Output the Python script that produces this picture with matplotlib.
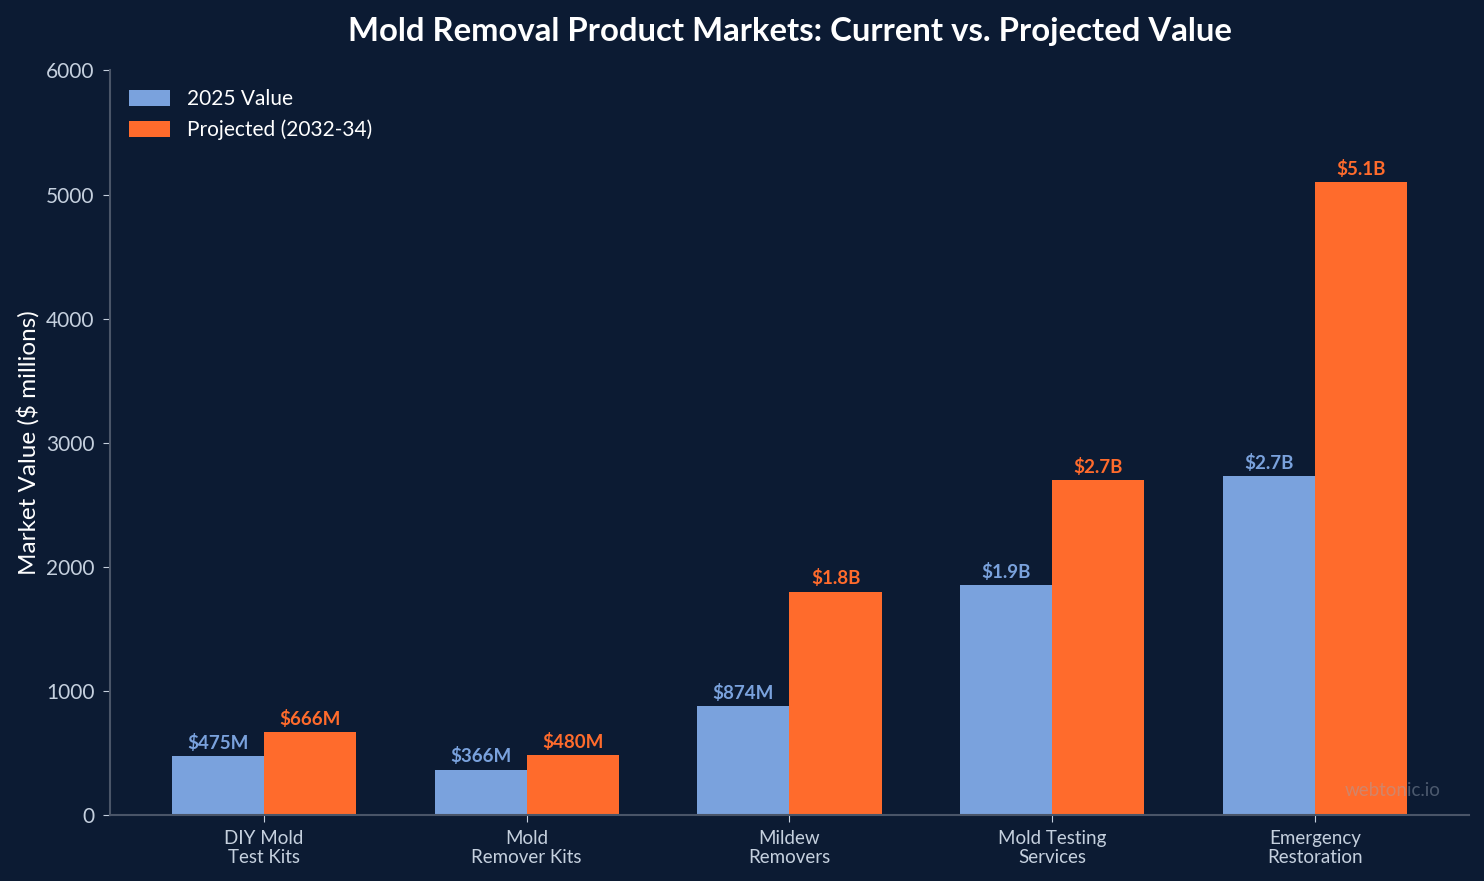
import matplotlib
matplotlib.use("Agg")
from matplotlib import pyplot as plt
import numpy as np

categories = ["DIY Mold\nTest Kits", "Mold\nRemover Kits", "Mildew\nRemovers",
              "Mold Testing\nServices", "Emergency\nRestoration"]
value_2025 = [475, 366, 874, 1850, 2730]
value_proj = [666, 480, 1800, 2700, 5100]
labels_2025 = ["$475M", "$366M", "$874M", "$1.9B", "$2.7B"]
labels_proj = ["$666M", "$480M", "$1.8B", "$2.7B", "$5.1B"]

BG = "#0c1b33"
BLUE = "#7aa2dd"
ORANGE = "#ff6b2c"
TEXT = "#c5d0de"
SPINE = "#4a5568"

plt.rcParams['font.family'] = ['Lato', 'DejaVu Sans']

fig, ax = plt.subplots(figsize=(14.84, 8.81), dpi=100)
fig.patch.set_facecolor(BG)
ax.set_facecolor(BG)

x = np.arange(len(categories))
w = 0.35
b1 = ax.bar(x - w / 2, value_2025, w, color=BLUE, label="2025 Value")
b2 = ax.bar(x + w / 2, value_proj, w, color=ORANGE, label="Projected (2032-34)")

ax.bar_label(b1, labels=labels_2025, padding=3, color=BLUE, fontsize=13.5, fontweight="bold")
ax.bar_label(b2, labels=labels_proj, padding=3, color=ORANGE, fontsize=13.5, fontweight="bold")

ax.set_ylim(0, 6000)
ax.set_xticks(x)
ax.set_xticklabels(categories, fontsize=13.5, color=TEXT, linespacing=1.15)
ax.tick_params(axis="y", labelsize=15, colors=TEXT, pad=6)
ax.tick_params(axis="x", colors=TEXT, pad=6)
ax.tick_params(color=TEXT, length=5)
ax.set_ylabel("Market Value ($ millions)", fontsize=17.5, color="white", labelpad=5)

for s in ["top", "right"]:
    ax.spines[s].set_visible(False)
for s in ["left", "bottom"]:
    ax.spines[s].set_color(SPINE)
    ax.spines[s].set_linewidth(1.5)

ax.set_title("Mold Removal Product Markets: Current vs. Projected Value",
             fontsize=23.7, fontweight="bold", color="white", pad=21)

leg = ax.legend(loc="upper left", frameon=False, fontsize=15, labelcolor="white",
                handlelength=2.0, handleheight=0.75, handletextpad=0.8,
                labelspacing=0.5, borderaxespad=0.5)

# watermark
ax.text(0.979, 0.022, "webtonic.io", transform=ax.transAxes, ha="right", va="bottom",
        fontsize=13.5, color="#9aa5b5", alpha=0.45, zorder=10)

plt.subplots_adjust(left=0.074, right=0.99, top=0.92, bottom=0.075)
fig.savefig("out.png", dpi=100, facecolor=BG)
